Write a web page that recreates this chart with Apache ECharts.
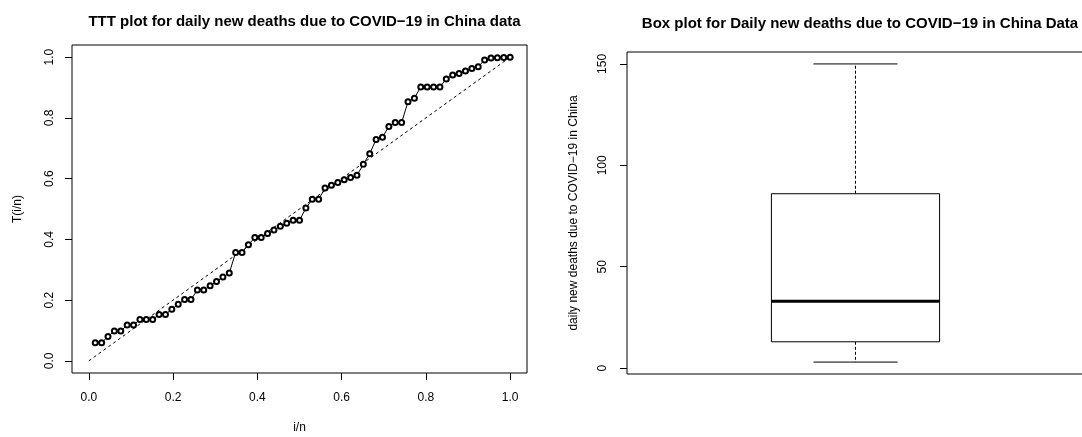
<!DOCTYPE html>
<html>
<head>
<meta charset="utf-8">
<title>TTT plot and box plot</title>
<script src="https://cdn.jsdelivr.net/npm/echarts@6/dist/echarts.min.js"></script>
<style>
  html, body { margin: 0; padding: 0; background: #fff; }
  #chart { width: 1082px; height: 437px; }
</style>
</head>
<body>
<div id="chart"></div>
<script>
// TTT plot: scaled total time on test, one value per i = 1..n
var n = 66;
var tttValues = [
  0.060, 0.060, 0.080, 0.098, 0.098, 0.118, 0.118, 0.136, 0.136, 0.136,
  0.153, 0.153, 0.170, 0.186, 0.202, 0.202, 0.233, 0.233, 0.247, 0.261,
  0.276, 0.289, 0.357, 0.357, 0.382, 0.406, 0.406, 0.419, 0.431, 0.443,
  0.453, 0.463, 0.463, 0.503, 0.532, 0.532, 0.569, 0.578, 0.587, 0.596,
  0.604, 0.611, 0.647, 0.682, 0.729, 0.736, 0.772, 0.785, 0.785, 0.853,
  0.865, 0.902, 0.902, 0.902, 0.902, 0.928, 0.941, 0.946, 0.954, 0.963,
  0.968, 0.991, 0.997, 0.998, 0.999, 1.000
];
// reference diagonal
var diagX = [0, 1];
var diagY = [0, 1];
var tttTicks = [0, 0.2, 0.4, 0.6, 0.8, 1.0];

// box plot: min, Q1, median, Q3, max
var boxCategories = ["deaths"];
var boxStats = [3, 13, 33, 86, 150];
var boxTicks = [0, 50, 100, 150];

var tttData = tttValues.map(function (v, i) {
  return [(i + 1) / n, v];
});
var diagData = diagX.map(function (x, i) {
  return [x, diagY[i]];
});

var font = "'Liberation Sans', Arial, sans-serif";

function renderBox(params, api) {
  var cat = api.value(0);
  var pMin = api.coord([cat, api.value(1)]);
  var pQ1 = api.coord([cat, api.value(2)]);
  var pMed = api.coord([cat, api.value(3)]);
  var pQ3 = api.coord([cat, api.value(4)]);
  var pMax = api.coord([cat, api.value(5)]);
  var band = api.size([1, 0])[0];
  var half = band * 0.184;
  var cap = half / 2;
  var cx = pMed[0];
  var thin = { stroke: "#000", lineWidth: 1, fill: null };
  var dashed = { stroke: "#000", lineWidth: 1, lineDash: [3, 2], fill: null };
  return {
    type: "group",
    children: [
      { type: "line", shape: { x1: cx, y1: pQ3[1], x2: cx, y2: pMax[1] }, style: dashed },
      { type: "line", shape: { x1: cx, y1: pQ1[1], x2: cx, y2: pMin[1] }, style: dashed },
      { type: "line", shape: { x1: cx - cap, y1: pMax[1], x2: cx + cap, y2: pMax[1] }, style: thin },
      { type: "line", shape: { x1: cx - cap, y1: pMin[1], x2: cx + cap, y2: pMin[1] }, style: thin },
      { type: "rect", shape: { x: cx - half, y: pQ3[1], width: half * 2, height: pQ1[1] - pQ3[1] }, style: { stroke: "#000", lineWidth: 1, fill: "#fff" } },
      { type: "line", shape: { x1: cx - half, y1: pMed[1], x2: cx + half, y2: pMed[1] }, style: { stroke: "#000", lineWidth: 3 } }
    ]
  };
}

var myChart = echarts.init(document.getElementById("chart"));
myChart.setOption({
  animation: false,
  backgroundColor: "#fff",
  textStyle: { fontFamily: font, color: "#000" },
  title: [
    {
      text: "TTT plot for daily new deaths due to COVID\u221219 in China data",
      left: 299.5,
      top: 9,
      textAlign: "center",
      textStyle: { fontFamily: font, fontSize: 15, fontWeight: "bold", color: "#000" }
    },
    {
      text: "Box plot for Daily new deaths due to COVID\u221219 in China Data",
      left: 855,
      top: 11,
      textAlign: "center",
      textStyle: { fontFamily: font, fontSize: 15, fontWeight: "bold", color: "#000" }
    }
  ],
  grid: [
    { left: 72, top: 45, width: 455, height: 328, outerBoundsMode: "none", containLabel: false, show: true, borderColor: "#000", borderWidth: 1, backgroundColor: "transparent" },
    { left: 627, top: 52, width: 457, height: 322, outerBoundsMode: "none", containLabel: false, show: true, borderColor: "#000", borderWidth: 1, backgroundColor: "transparent" }
  ],
  xAxis: [
    {
      gridIndex: 0,
      type: "value",
      min: -0.04,
      max: 1.04,
      name: "i/n",
      nameLocation: "middle",
      nameGap: 49,
      nameTextStyle: { fontSize: 12, color: "#000" },
      axisLine: { show: false, onZero: false },
      axisTick: { show: true, length: 7, customValues: tttTicks, lineStyle: { color: "#000" } },
      axisLabel: { fontSize: 12, color: "#000", margin: 19, customValues: tttTicks, formatter: function (v) { return v.toFixed(1); } },
      splitLine: { show: false }
    },
    {
      gridIndex: 1,
      type: "category",
      data: boxCategories,
      boundaryGap: true,
      axisLine: { show: false, onZero: false },
      axisTick: { show: false },
      axisLabel: { show: false },
      splitLine: { show: false }
    }
  ],
  yAxis: [
    {
      gridIndex: 0,
      type: "value",
      min: -0.04,
      max: 1.04,
      name: "T(i/n)",
      nameLocation: "middle",
      nameGap: 48,
      nameRotate: 90,
      nameTextStyle: { fontSize: 12, color: "#000" },
      axisLine: { show: false, onZero: false },
      axisTick: { show: true, length: 7, customValues: tttTicks, lineStyle: { color: "#000" } },
      axisLabel: { fontSize: 12, color: "#000", rotate: 90, margin: 16, customValues: tttTicks, formatter: function (v) { return v.toFixed(1); } },
      splitLine: { show: false }
    },
    {
      gridIndex: 1,
      type: "value",
      min: -2.88,
      max: 155.88,
      name: "daily new deaths due to COVID\u221219 in China",
      nameLocation: "middle",
      nameGap: 47,
      nameRotate: 90,
      nameTextStyle: { fontSize: 12, color: "#000" },
      axisLine: { show: false, onZero: false },
      axisTick: { show: true, length: 7, customValues: boxTicks, lineStyle: { color: "#000" } },
      axisLabel: { fontSize: 12, color: "#000", rotate: 90, margin: 18, customValues: boxTicks },
      splitLine: { show: false }
    }
  ],
  series: [
    {
      name: "diagonal",
      type: "line",
      xAxisIndex: 0,
      yAxisIndex: 0,
      data: diagData,
      symbol: "none",
      lineStyle: { color: "#000", width: 1, type: [3, 3] },
      silent: true
    },
    {
      name: "TTT",
      type: "line",
      xAxisIndex: 0,
      yAxisIndex: 0,
      data: tttData,
      symbol: "emptyCircle",
      symbolSize: 5,
      showAllSymbol: true,
      lineStyle: { color: "#000", width: 1 },
      itemStyle: { color: "#000", borderColor: "#000", borderWidth: 2.5 }
    },
    {
      name: "box",
      type: "custom",
      xAxisIndex: 1,
      yAxisIndex: 1,
      renderItem: renderBox,
      encode: { x: 0, y: [1, 2, 3, 4, 5] },
      data: [[0].concat(boxStats)]
    }
  ]
});
</script>
</body>
</html>
